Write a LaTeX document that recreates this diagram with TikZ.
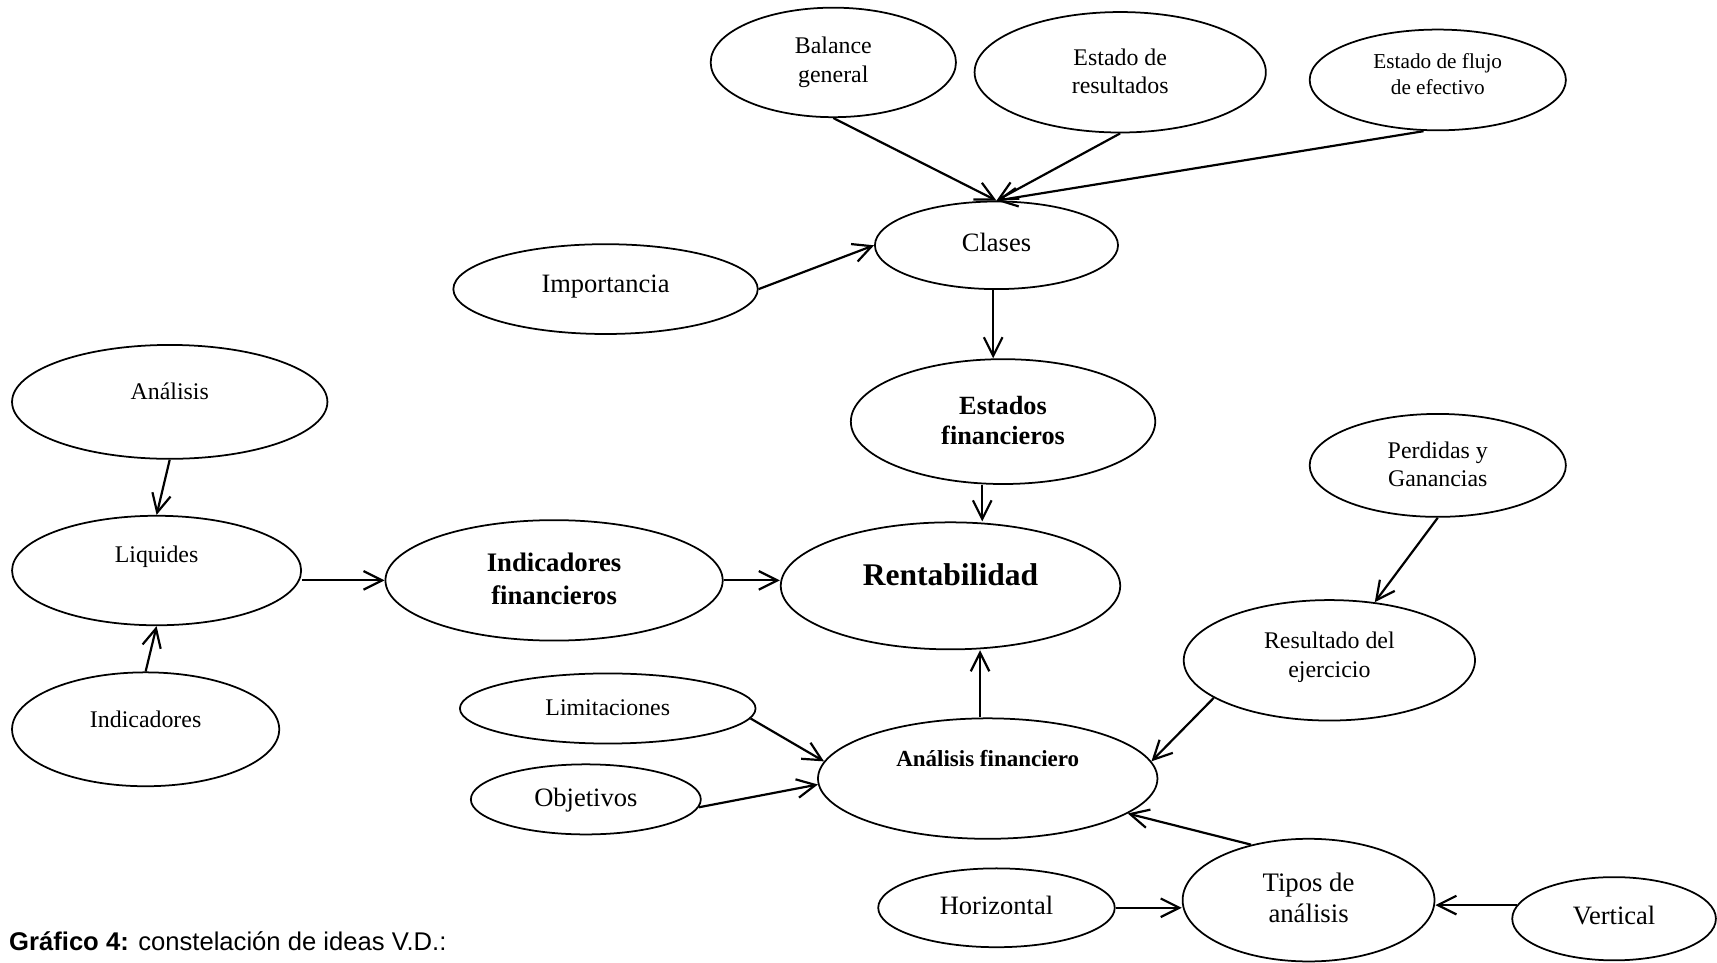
\documentclass[tikz,border=0pt]{standalone}
\usepackage{fontspec}
\setmainfont{Liberation Serif}
\newfontfamily\capfont{Liberation Sans}
\usetikzlibrary{arrows.meta,shapes.geometric,calc}

% bubble: name, x, y, half width, half height (in picture units = 0.5pt)
\newcommand\bubble[5]{\node[bub, minimum width=#4pt, minimum height=#5pt] (#1) at (#2,#3) {};}

\begin{document}
\begin{tikzpicture}[x=0.5pt,y=-0.5pt,
  bub/.style={draw, ellipse, line width=0.8pt, inner sep=0pt},
  lbl/.style={align=center, inner sep=0pt},
  fn/.style={font=\fontsize{10.9}{13}\selectfont},
  fl/.style={font=\fontsize{12.1}{14}\selectfont},
  arr/.style={line width=1pt, -{Straight Barb[length=8.5pt,width=8.5pt,line width=1pt]}}]
\useasboundingbox (0,0) rectangle (1568,879);

% ellipses
\bubble{bal}{761}{57}{112}{50}
\bubble{res}{1023}{66}{133}{55}
\bubble{flujo}{1313}{73}{117}{46}
\bubble{clases}{910}{224}{111}{40}
\bubble{imp}{553}{264}{139}{41}
\bubble{estfin}{916}{385}{139}{57}
\bubble{anal}{155}{367}{144}{52}
\bubble{liq}{143}{521}{132}{50}
\bubble{ind}{133}{666}{122}{52}
\bubble{indfin}{506}{530}{154}{55}
\bubble{rent}{868}{535}{155}{58}
\bubble{perd}{1313}{425}{117}{47}
\bubble{resul}{1214}{603}{133}{55}
\bubble{lim}{555}{647}{135}{32}
\bubble{obj}{535}{730}{105}{32}
\bubble{anfin}{902}{711}{155}{55}
\bubble{tipos}{1195}{822}{115}{56}
\bubble{horiz}{910}{829}{108}{36}
\bubble{vert}{1474}{839}{93}{38}

% labels
\node[lbl, fn] (bal-t) at (761,57) {Balance\\general};
\node[lbl, fn] (res-t) at (1023,65) {Estado de\\resultados};
\node[lbl, font=\fontsize{9.7}{12}\selectfont] (flujo-t) at (1313,68) {Estado de flujo\\de efectivo};
\node[lbl, fl] (clases-t) at (910,221) {Clases};
\node[lbl, fl] (imp-t) at (553,262) {Importancia};
\node[lbl, font=\bfseries\fontsize{12}{14}\selectfont] (estfin-t) at (916,384) {Estados\\financieros};
\node[lbl, fn] (anal-t) at (155,357) {Análisis};
\node[lbl, fn] (liq-t) at (143,508) {Liquides};
\node[lbl, fn] (ind-t) at (133,657) {Indicadores};
\node[lbl, font=\bfseries\fontsize{12.2}{15}\selectfont] (indfin-t) at (506,529) {Indicadores\\financieros};
\node[lbl, font=\bfseries\fontsize{14.4}{17}\selectfont] (rent-t) at (868,525) {Rentabilidad};
\node[lbl, fn] (perd-t) at (1313,424) {Perdidas y\\Ganancias};
\node[lbl, fn] (resul-t) at (1214,600) {Resultado del\\ejercicio};
\node[lbl, fn] (lim-t) at (555,646) {Limitaciones};
\node[lbl, fl] (obj-t) at (535,731) {Objetivos};
\node[lbl, font=\bfseries\fontsize{10.5}{13}\selectfont] (anfin-t) at (902,693) {Análisis financiero};
\node[lbl, font=\fontsize{12.2}{14}\selectfont] (tipos-t) at (1195,820) {Tipos de\\análisis};
\node[lbl, fl] (horiz-t) at (910,827) {Horizontal};
\node[lbl, fl] (vert-t) at (1474,836) {Vertical};

% connectors
\draw[arr] (bal.south) -- (clases.north);
\draw[arr] (res.south) -- (clases.north);
\draw[arr] ([xshift=-6.5pt]flujo.south) -- (clases.north);
\draw[arr] (imp.east) -- (clases.west);
\draw[arr] ([xshift=-1.5pt]clases.south) -- ([xshift=-1.5pt]clases.south |- estfin.north);
\draw[arr] ([xshift=-9.5pt]estfin.south) -- ([xshift=-9.5pt]estfin.south |- rent.north);
\draw[arr] (anal.south) -- (liq.north);
\draw[arr] (ind.north) -- (liq.south);
\draw[arr] (liq.east |- indfin.west) -- (indfin.west);
\draw[arr] (indfin.east) -- (indfin.east -| rent.west);
\draw[arr] ([xshift=-3.5pt]anfin.north) -- ([xshift=-3.5pt]anfin.north |- rent.south);
\draw[arr] (perd.south) -- (resul.52);
\draw[arr] (resul.198) -- (anfin.6);
\draw[arr] (lim.-4) -- (anfin.174);
\draw[arr] (obj.-4) -- (anfin.182);
\draw[arr] (tipos.136) -- (anfin.-14);
\draw[arr] (horiz.east) -- (horiz.east -| tipos.west);
\draw[arr] (vert.172) -- (vert.172 -| tipos.east);

% caption
\node[anchor=base west, inner sep=0pt, font=\capfont\fontsize{11.7}{14}\selectfont] (cap) at (8,868) {\textbf{Gráfico 4:} constelación de ideas V.D.:};
\end{tikzpicture}
\end{document}
